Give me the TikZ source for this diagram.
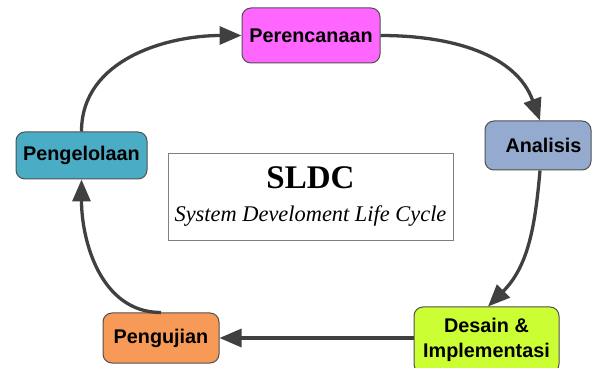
\documentclass[tikz,border=0pt]{standalone}
\usepackage{fontspec}
\setmainfont{Liberation Serif}
\setsansfont{Liberation Sans}
\usetikzlibrary{arrows.meta}

\definecolor{edgegray}{HTML}{404040}
\definecolor{boxline}{HTML}{505050}
\definecolor{cPlan}{HTML}{FF66FF}
\definecolor{cAnal}{HTML}{94AACE}
\definecolor{cDesign}{HTML}{CCFF33}
\definecolor{cTest}{HTML}{F79A58}
\definecolor{cMaint}{HTML}{4BACC6}

\tikzset{
  phase/.style={draw=boxline, line width=1pt, rounded corners=9pt,
    font=\sffamily\bfseries\fontsize{19.8}{25}\selectfont, align=center,
    inner sep=0pt},
  flow/.style={draw=edgegray, line width=3.3pt,
    -{Triangle[length=22pt,width=18pt]}},
  titlebox/.style={draw=gray, line width=0.8pt, inner sep=0pt,
    minimum width=285pt, minimum height=87pt}
}

\begin{document}
\begin{tikzpicture}[x=1pt,y=1pt]
  \useasboundingbox (0,0) rectangle (592,367);

  % the five phases of the cycle
  \node[phase, fill=cPlan,   minimum width=138pt, minimum height=55pt] (plan)   at (311,331.5) {Perencanaan};
  \node[phase, fill=cAnal,   minimum width=106pt, minimum height=49pt] (anal)   at (538,221.5) {\hspace*{11pt}Analisis};
  \node[phase, fill=cDesign, minimum width=145pt, minimum height=66pt] (design) at (486.5,27) {Desain \&\\Implementasi};
  \node[phase, fill=cTest,   minimum width=116pt, minimum height=50pt] (test)   at (161,29) {Pengujian};
  \node[phase, fill=cMaint,  minimum width=131pt, minimum height=47pt] (maint)  at (81.5,211.5) {Pengelolaan};

  % central title
  \node[titlebox] (title) at (310.5,170.5) {};
  \node[font=\bfseries\fontsize{33}{36}\selectfont, anchor=base] (abbr) at (310.5,178) {SLDC};
  \node[font=\itshape\fontsize{22.4}{26}\selectfont, anchor=base] (full) at (310.5,145) {System Develoment Life Cycle};

  % cycle arrows
  \draw[flow] (plan.east) to[out=0,in=110] ([xshift=2pt]anal.north);
  \draw[flow] ([xshift=2pt]anal.south) to[out=265,in=45] ([xshift=1.5pt]design.north);
  \draw[flow] (design.west |- test.east) -- (test.east);
  \draw[flow] (test.north) to[out=180,in=270] (maint.south);
  \draw[flow] (maint.north) to[out=90,in=180] (plan.west);
\end{tikzpicture}
\end{document}
